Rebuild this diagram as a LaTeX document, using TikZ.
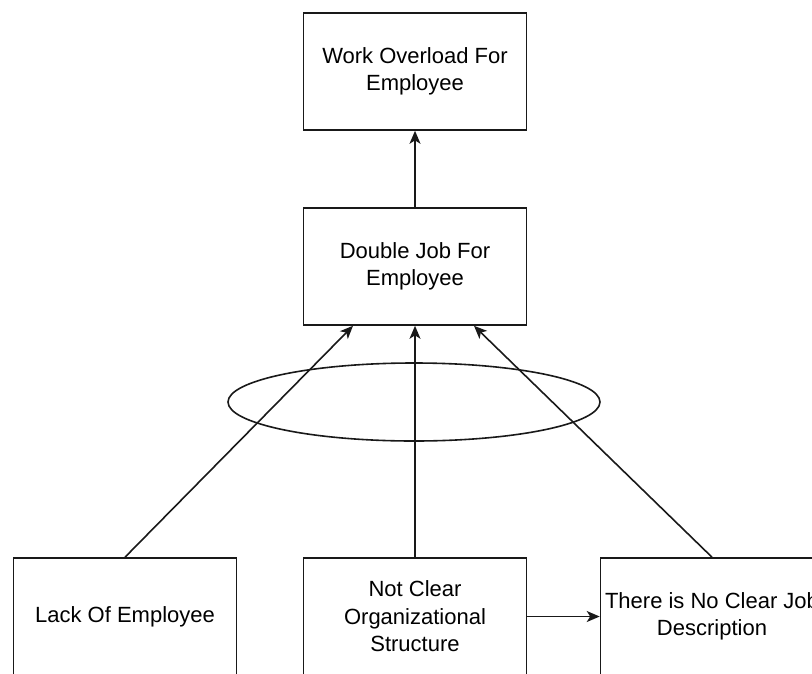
\documentclass[tikz,border=0pt]{standalone}
\usepackage{fontspec}
\setmainfont{Liberation Sans}
\usetikzlibrary{arrows.meta}
\begin{document}
\begin{tikzpicture}[x=1pt,y=-1pt,
  box/.style={draw=black!90, line width=1.6pt, minimum width=223pt, minimum height=117pt,
    inner sep=0pt, align=center, font=\fontsize{22}{27.5}\selectfont},
  link/.style={draw=black!90, line width=1.6pt, -{Stealth[length=13pt,width=11pt,inset=3.5pt]}}]
  \clip (0,0) rectangle (812,673);
  \fill[white] (0,0) rectangle (812,673);
  % cause-effect boxes
  \node[box] (overload) at (415,71.5) {Work Overload For\\Employee};
  \node[box] (double) at (415,266.5) {Double Job For\\Employee};
  \node[box] (lack) at (125,616.5) {Lack Of Employee};
  \node[box] (struct) at (415,616.5) {Not Clear\\Organizational\\Structure};
  \node[box] (jobdesc) at (712,616.5) {There is No Clear Job\\Description};
  % grouping ellipse across the three causes
  \draw[black!90, line width=1.6pt] (414,402) ellipse [x radius=186, y radius=39];
  % connectors
  \draw[link] (double.north) -- (overload.south);
  \draw[link] (lack.north) -- (double.south -| 353,0);
  \draw[link] (struct.north) -- (double.south);
  \draw[link] (jobdesc.north) -- (double.south -| 474,0);
  \draw[link] (struct.east) -- (jobdesc.west);
\end{tikzpicture}
\end{document}
